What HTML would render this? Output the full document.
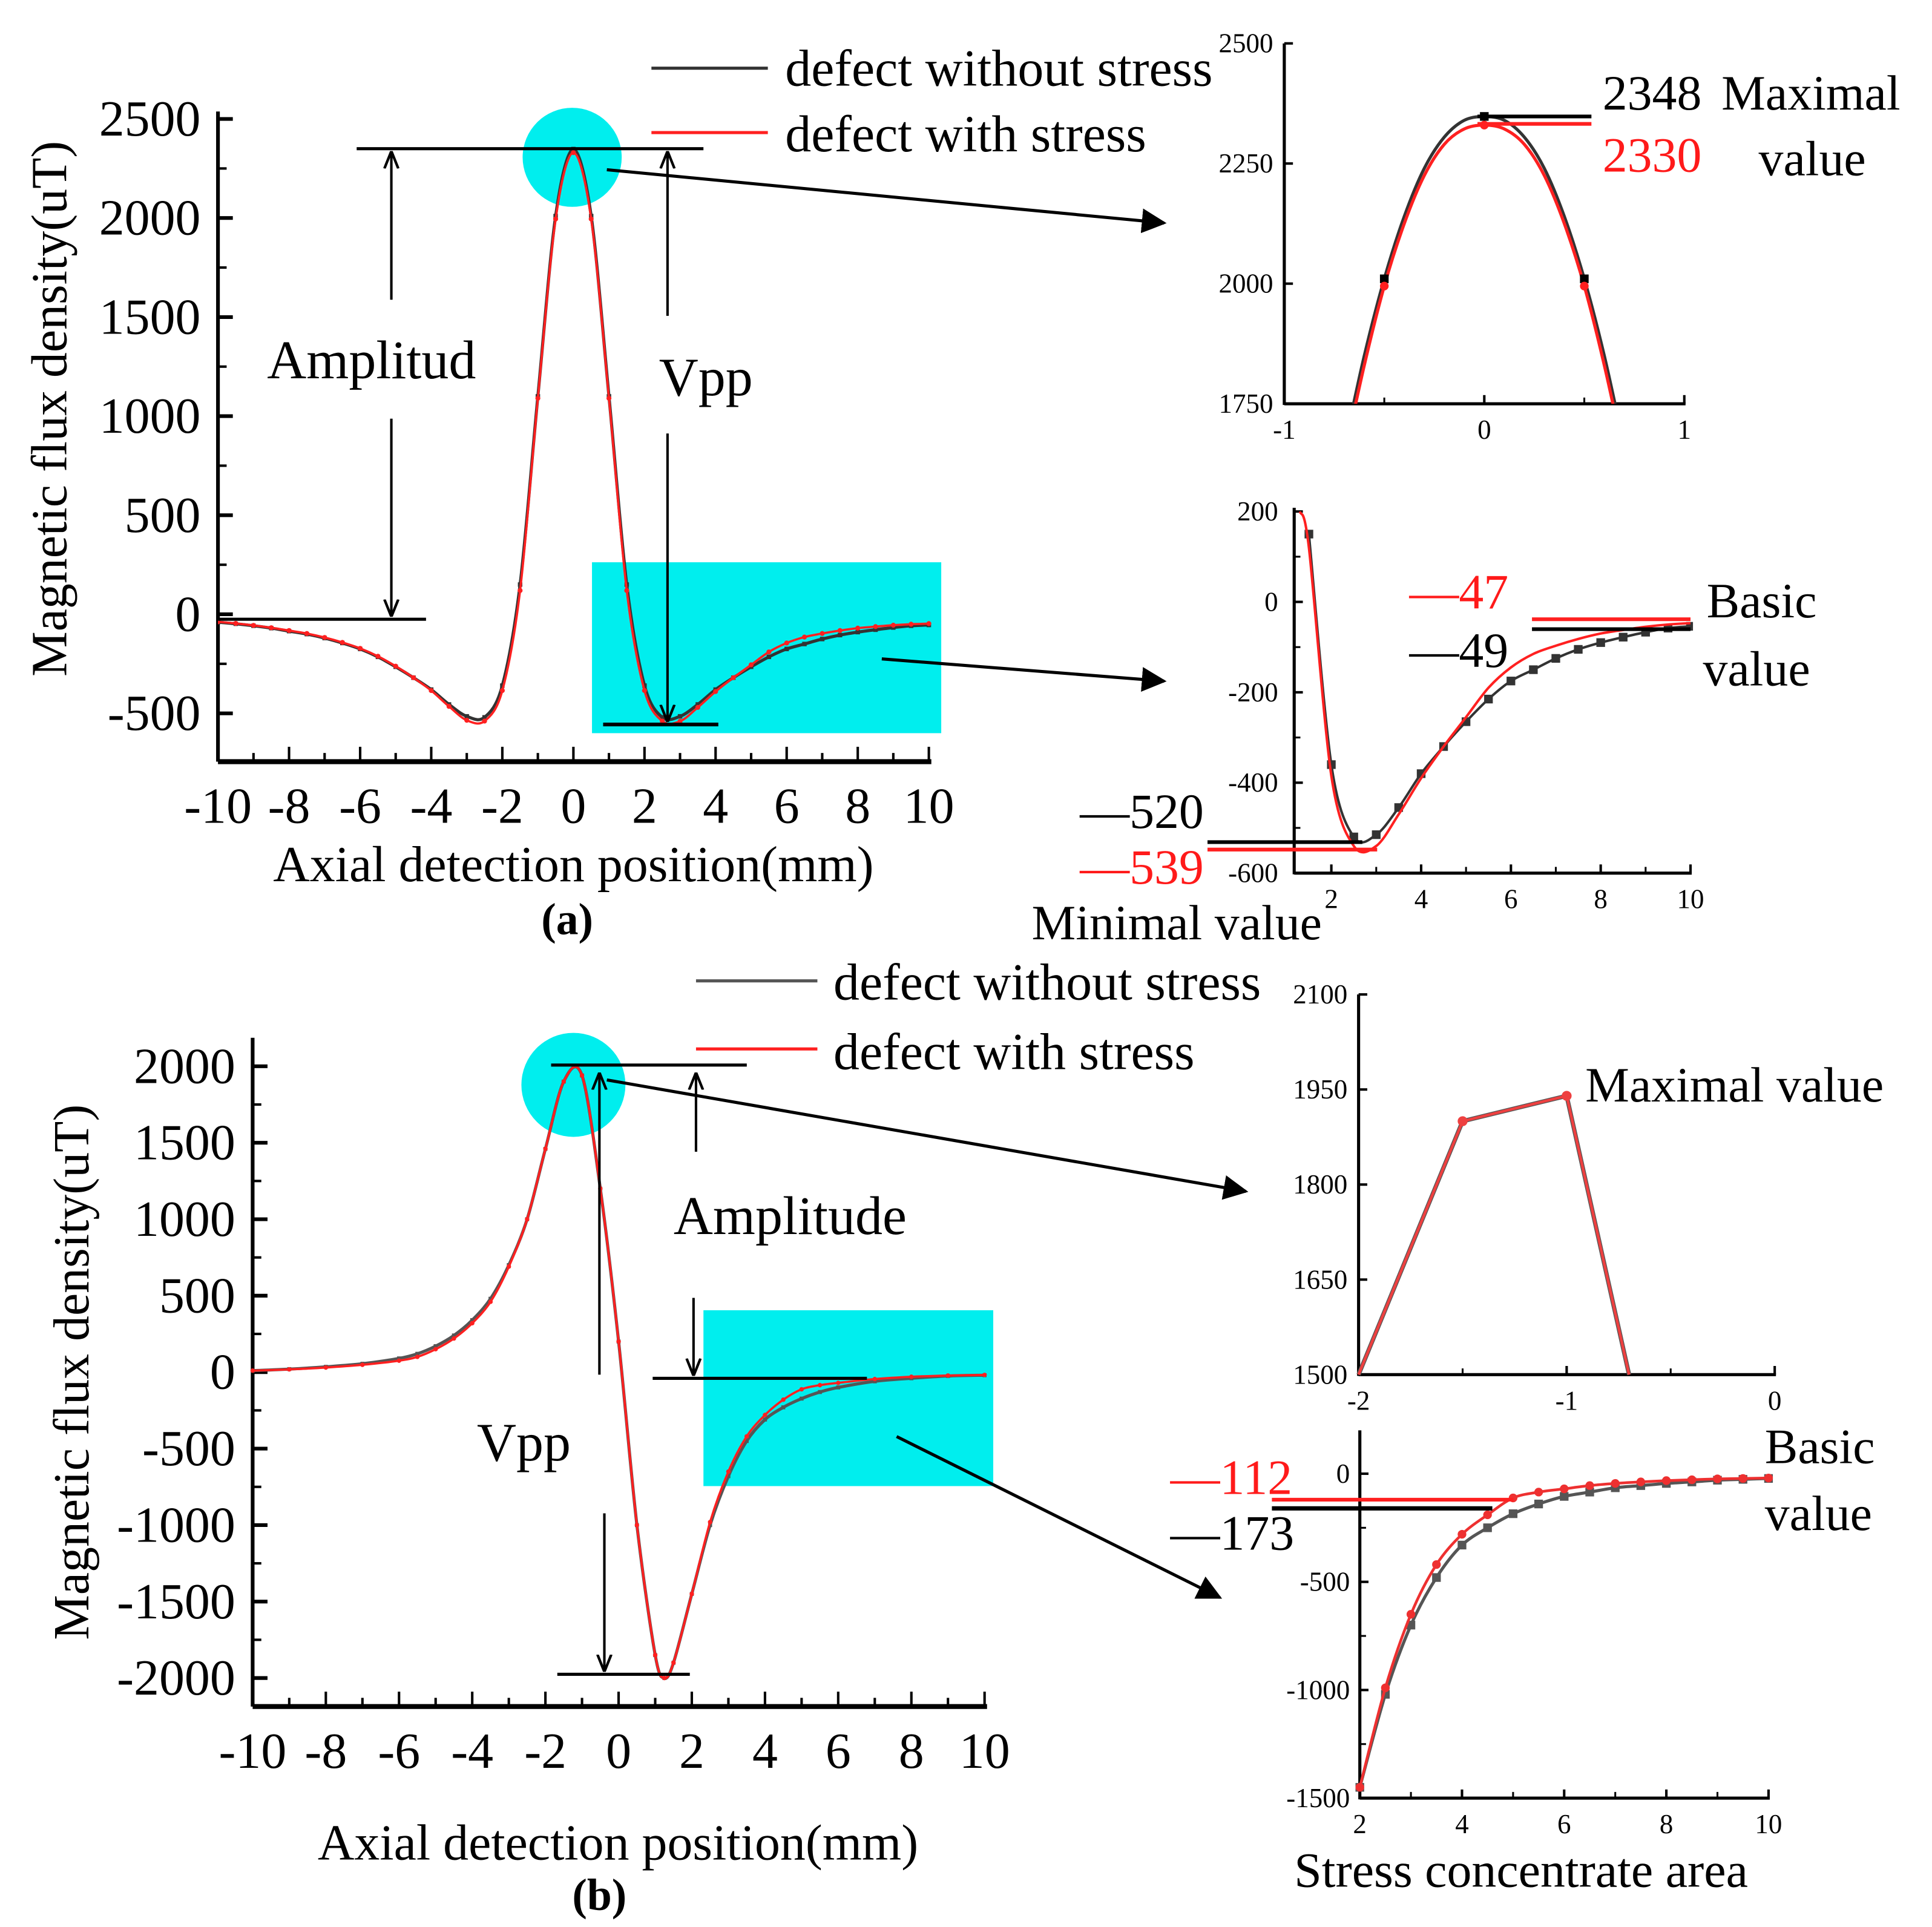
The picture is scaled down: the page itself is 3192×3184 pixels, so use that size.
<!DOCTYPE html>
<html><head><meta charset="utf-8"><style>
html,body{margin:0;padding:0;background:#fff}
svg{display:block}
text{font-family:"Liberation Serif",serif}
</style></head><body>
<svg id="root" width="3192" height="3184" viewBox="0 0 1560 1556" xmlns="http://www.w3.org/2000/svg">
<defs>
<marker id="ah" viewBox="0 0 10 10" refX="9" refY="5" markerWidth="8" markerHeight="8" orient="auto"><path d="M0,0 L10,5 L0,10 z" fill="#000"/></marker>
<marker id="oa" viewBox="0 0 10 10" refX="10" refY="5" markerWidth="7" markerHeight="7" orient="auto"><path d="M0,1 L10,5 L0,9" fill="none" stroke="#000" stroke-width="1.5"/></marker>
</defs>
<g id="layer"></g>
</svg>
<script>
// ---------- Data ----------
const aX = [-10,-9.5,-9,-8.5,-8,-7.5,-7,-6.5,-6,-5.5,-5,-4.5,-4,-3.5,-3,-2.5,-2,-1.5,-1,-0.5,0,0.5,1,1.5,2,2.5,3,3.5,4,4.5,5,5.5,6,6.5,7,7.5,8,8.5,9,9.5,10];
const aNoStress = [-40,-48,-58,-70,-85,-100,-120,-145,-175,-215,-265,-320,-380,-455,-515,-520,-360,150,1100,2010,2348,2010,1100,150,-360,-520,-515,-455,-380,-320,-265,-215,-175,-150,-125,-105,-90,-78,-67,-58,-54];
const aStress = [-38,-46,-56,-68,-82,-97,-117,-142,-172,-212,-262,-320,-385,-465,-535,-539,-385,120,1090,1995,2330,1995,1090,120,-385,-539,-540,-470,-390,-320,-255,-190,-145,-115,-97,-82,-70,-62,-55,-50,-47];
const a1X = [-0.7,-0.6,-0.5,-0.4,-0.3,-0.2,-0.1,0,0.1,0.2,0.3,0.4,0.5,0.6,0.7];
const a1NoStress = [1660,1850,2010,2140,2240,2305,2340,2348,2340,2305,2240,2140,2010,1850,1660];
const a1Stress = [1640,1830,1995,2125,2225,2290,2322,2330,2322,2290,2225,2125,1995,1830,1640];
const a2X = [1.3,1.5,2,2.5,3,3.5,4,4.5,5,5.5,6,6.5,7,7.5,8,8.5,9,9.5,10];
const a2NoStress = [210,150,-360,-520,-515,-455,-380,-320,-265,-215,-175,-150,-125,-105,-90,-78,-67,-58,-54];
const a2Stress = [200,120,-385,-540,-540,-470,-390,-320,-255,-190,-145,-115,-97,-82,-70,-62,-55,-50,-47];
const bX = [-10,-9,-8,-7,-6,-5.5,-5,-4.5,-4,-3.5,-3,-2.5,-2,-1.5,-1,-0.5,0,0.5,1,1.25,1.5,2,2.5,3,3.5,4,4.5,5,5.5,6,7,8,9,10];
const bNoStress = [10,20,35,55,90,120,170,240,340,480,700,1000,1460,1900,1940,1200,200,-1000,-1850,-2000,-1900,-1450,-1000,-680,-450,-310,-230,-173,-130,-100,-60,-40,-25,-20];
const bStress = [10,18,30,48,75,100,150,220,320,460,690,1000,1460,1900,1940,1200,200,-1000,-1850,-2000,-1900,-1450,-980,-650,-420,-280,-180,-112,-85,-70,-45,-30,-22,-18];
const b1X = [-2,-1.5,-1,-0.7];
const b1Vals = [1500,1900,1940,1500];
const b2X = [2,2.5,3,3.5,4,4.5,5,5.5,6,6.5,7,7.5,8,8.5,9,9.5,10];
const b2NoStress = [-1450,-1020,-700,-480,-330,-250,-185,-140,-105,-85,-65,-55,-45,-38,-30,-26,-22];
const b2Stress = [-1450,-990,-650,-420,-280,-190,-112,-85,-70,-55,-45,-38,-32,-28,-24,-22,-20];
const aXTicks = ['-10','-8','-6','-4','-2','0','2','4','6','8','10'];
const aYTicks = ['2500','2000','1500','1000','500','0','-500'];
const bYTicks = ['2000','1500','1000','500','0','-500','-1000','-1500','-2000'];

const NS='http://www.w3.org/2000/svg';
const L=document.getElementById('layer');
function el(tag,attrs,parent){const e=document.createElementNS(NS,tag);for(const k in attrs)e.setAttribute(k,attrs[k]);(parent||L).appendChild(e);return e;}
function txt(s,x,y,size,opts,parent){opts=opts||{};const t=el('text',{x:x,y:y,'font-size':size,fill:opts.fill||'#000','text-anchor':opts.anchor||'start','dominant-baseline':'central'},parent);if(opts.transform)t.setAttribute('transform',opts.transform);t.textContent=s;return t;}
function lin(d0,d1,r0,r1){return v=>r0+(v-d0)*(r1-r0)/(d1-d0);}
function smooth(pts){let d='M'+pts[0][0]+','+pts[0][1];for(let i=0;i<pts.length-1;i++){const p0=pts[Math.max(0,i-1)],p1=pts[i],p2=pts[i+1],p3=pts[Math.min(pts.length-1,i+2)];const t=0.16;d+=' C'+(p1[0]+(p2[0]-p0[0])*t)+','+(p1[1]+(p2[1]-p0[1])*t)+' '+(p2[0]-(p3[0]-p1[0])*t)+','+(p2[1]-(p3[1]-p1[1])*t)+' '+p2[0]+','+p2[1];}return d;}
function series(xs,ys,sx,sy,color,w,marker,ms,name,clip,straight){
  const g=el('g',{});
  
  
  if(clip)g.setAttribute('clip-path','url(#'+clip+')');
  const pts=xs.map((x,i)=>[sx(x),sy(ys[i])]);
  const d=straight?('M'+pts.map(p=>p.join(',')).join(' L')):smooth(pts);
  el('path',{d:d,fill:'none',stroke:color,'stroke-width':w},g);
  pts.forEach(p=>{
    if(marker==='sq'){const m=el('rect',{x:p[0]-ms,y:p[1]-ms,width:2*ms,height:2*ms,fill:color},g);}
    else if(marker==='ci'){const m=el('circle',{cx:p[0],cy:p[1],r:ms,fill:color},g);}
  });
}
function clipRect(id,x,y,w,h){const c=el('clipPath',{id:id});el('rect',{x:x,y:y,width:w,height:h},c);}
function line(x1,y1,x2,y2,w,color,marker,name){const l=el('line',{x1:x1,y1:y1,x2:x2,y2:y2,stroke:color||'#000','stroke-width':w||2});if(marker)l.setAttribute('marker-end','url(#'+marker+')');return l;}
function lab(s,x,y,size,name,opts){const t=txt(s,x,y,size,opts);return t;}

// ============ Panel (a) main ============
(function(){
  const sx=lin(-10,10,176,750), sy=lin(0,2500,496,96);
  let c=el('circle',{cx:462,cy:127,r:40,fill:'#00eeee'});
  
  let r=el('rect',{x:478,y:454,width:282,height:138,fill:'#00eeee'});
  
  clipRect('ca',176,60,600,560);
  line(176,90,176,615,3,'#000',null,'y-axis');
  line(176,615,752,615,4,'#000',null,'x-axis');
  aXTicks.forEach((t,i)=>{const v=+t;const x=sx(v);line(x,615,x,603,2,'#000',null,'x-tick');if(i<aXTicks.length-1)line(sx(v+1),615,sx(v+1),608,2,'#000',null,'x-minor-tick');lab(t,x,651,41,'x-tick-label',{anchor:'middle'});});
  aYTicks.forEach((t,i)=>{const v=+t;const y=sy(v);line(176,y,188,y,3,'#000',null,'y-tick');if(i<aYTicks.length-1)line(176,sy(v-250),183,sy(v-250),2,'#000',null,'y-minor-tick');lab(t,162,y,41,'y-tick-label',{anchor:'end'});});
  series(aX,aNoStress,sx,sy,'#333',2.5,'sq',1.8,'series-a-without-stress','ca');
  series(aX,aStress,sx,sy,'#ff2020',1.8,'ci',2,'series-a-with-stress','ca');
  lab('Axial detection position(mm)',463,698,41,'x-axis-title',{anchor:'middle'});
  lab('(a)',458,742,36,'panel-label-a',{anchor:'middle'}).setAttribute('font-weight','bold');
  lab('Magnetic flux density(uT)',40,330,41,'y-axis-title',{anchor:'middle',transform:'rotate(-90 40 330)'});
  line(288,120,568,120,2.5);line(176,500,344,500,2.5);
  line(316,242,316,122,2,'#000','oa','amplitude-arrow-up');line(316,338,316,498,2,'#000','oa','amplitude-arrow-down');
  lab('Amplitud',300,291,44,'amplitude-label',{anchor:'middle'});
  line(539,255,539,122,2,'#000','oa','vpp-arrow-up');line(539,350,539,583,2,'#000','oa','vpp-arrow-down');
  line(487,585,580,585,3);
  lab('Vpp',570,305,44,'vpp-label',{anchor:'middle'});
  line(490,137,940,180,2.5,'#000','ah','zoom-arrow-peak');
  line(712,532,940,550,2.5,'#000','ah','zoom-arrow-tail');
  line(526,55,620,55,2.5,'#333',null,'legend-line-without-stress');
  lab('defect without stress',634,55,42,'legend-without-stress');
  line(526,107,620,107,2.5,'#ff2020',null,'legend-line-with-stress');
  lab('defect with stress',634,108,42,'legend-with-stress');
})();

// ============ Inset a1 ============
(function(){
  const sx=lin(-1,1,1037,1360), sy=lin(1750,2500,326,35);
  clipRect('ca1',1037,30,323,296);
  line(1037,35,1037,327,2.5,'#000',null,'inset-a1-y-axis');line(1037,326,1361,326,2.5,'#000',null,'inset-a1-x-axis');
  ['-1','0','1'].forEach(s=>{const x=sx(+s);line(x,326,x,319,2);lab(s,x,347,22,'inset-a1-x-tick-label',{anchor:'middle'});});
  line(sx(-0.5),326,sx(-0.5),321,1.5);line(sx(0.5),326,sx(0.5),321,1.5);
  ['2500','2250','2000','1750'].forEach(s=>{const y=sy(+s);line(1037,y,1044,y,2);lab(s,1028,y,22,'inset-a1-y-tick-label',{anchor:'end'});});
  series(a1X,a1NoStress,sx,sy,'#333',2.5,null,0,'inset-a1-without-stress','ca1');
  series(a1X,a1Stress,sx,sy,'#ff2020',2.5,null,0,'inset-a1-with-stress','ca1');
  [-0.5,0,0.5].forEach(x=>{const i=a1X.indexOf(x);el('rect',{x:sx(x)-3.5,y:sy(a1NoStress[i])-3.5,width:7,height:7,fill:'#000'});el('circle',{cx:sx(x),cy:sy(a1Stress[i]),r:3.5,fill:'#ff2020'});});
  line(1193,94,1285,94,3);line(1193,100,1285,100,3,'#ff2020');
  lab('2348',1294,75,40,'max-value-no-stress');
  lab('2330',1294,125,40,'max-value-stress',{fill:'#ff1a1a'});
  lab('Maximal',1390,75,40,'maximal-label');
  lab('value',1420,128,40,'maximal-value-label');
})();

// ============ Inset a2 ============
(function(){
  const sx=lin(2,10,1075,1365), sy=lin(0,-600,486,705);
  clipRect('ca2',1045,410,322,296);
  line(1045,410,1045,706,2.5,'#000',null,'inset-a2-y-axis');line(1045,705,1366,705,2.5,'#000',null,'inset-a2-x-axis');
  ['2','4','6','8','10'].forEach(s=>{const x=sx(+s);line(x,705,x,698,2);if(+s<10)line(sx(+s+1),705,sx(+s+1),700,1.5);lab(s,x,726,22,'inset-a2-x-tick-label',{anchor:'middle'});});
  ['200','0','-200','-400','-600'].forEach(s=>{const y=sy(+s);line(1045,y,1052,y,2);if(+s>-600)line(1045,sy(+s-100),1050,sy(+s-100),1.5);lab(s,1032,y,22,'inset-a2-y-tick-label',{anchor:'end'});});
  series(a2X.slice(1),a2NoStress.slice(1),sx,sy,'#333',2,'sq',3.5,'inset-a2-without-stress','ca2');
  series(a2X,a2Stress,sx,sy,'#ff2020',2,null,0,'inset-a2-with-stress-line','ca2');
  series(a2X.slice(1),a2Stress.slice(1),sx,sy,'none',0,'ci',3.5,'inset-a2-with-stress','ca2');
  line(975,680,1100,680,3);line(975,686,1112,686,3,'#ff2020');
  line(1237,500,1365,500,3,'#ff2020');line(1237,508,1365,508,3);
  lab('—520',872,655,40,'min-value-no-stress');
  lab('—539',872,700,40,'min-value-stress',{fill:'#ff1a1a'});
  lab('—47',1138,478,40,'basic-value-stress',{fill:'#ff1a1a'});
  lab('—49',1138,525,40,'basic-value-no-stress');
  lab('Basic',1378,485,40,'basic-label');
  lab('value',1375,540,40,'basic-value-label');
  lab('Minimal value',833,745,40,'minimal-value-label');
})();

// ============ Panel (b) main ============
(function(){
  const sx=lin(-10,10,204,795), sy=lin(0,2000,1108,861);
  let c=el('circle',{cx:463,cy:876,r:42,fill:'#00eeee'});
  
  let r=el('rect',{x:568,y:1058,width:234,height:142,fill:'#00eeee'});
  
  line(204,838,204,1378,3,'#000',null,'y-axis-b');
  line(204,1378,797,1378,4,'#000',null,'x-axis-b');
  aXTicks.forEach((s,i)=>{const v=+s;const x=sx(v);line(x,1378,x,1366,2);if(i<aXTicks.length-1)line(sx(v+1),1378,sx(v+1),1371,2);lab(s,x,1414,41,'x-tick-label-b',{anchor:'middle'});});
  bYTicks.forEach((s,i)=>{const v=+s;const y=sy(v);line(204,y,216,y,3);if(i<bYTicks.length-1)line(204,sy(v-250),211,sy(v-250),2);lab(s,190,y,41,'y-tick-label-b',{anchor:'end'});});
  series(bX,bNoStress,sx,sy,'#555',2.5,'sq',1.6,'series-b-without-stress');
  series(bX,bStress,sx,sy,'#ff2020',1.8,'ci',1.8,'series-b-with-stress');
  lab('Axial detection position(mm)',499,1488,41,'x-axis-title-b',{anchor:'middle'});
  lab('(b)',484,1530,36,'panel-label-b',{anchor:'middle'}).setAttribute('font-weight','bold');
  lab('Magnetic flux density(uT)',58,1108,41,'y-axis-title-b',{anchor:'middle',transform:'rotate(-90 58 1108)'});
  line(445,860,603,860,2.5);
  line(562,930,562,866,2,'#000','oa','amplitude-arrow-up-b');line(560,1048,560,1111,2,'#000','oa','amplitude-arrow-down-b');
  line(527,1113,700,1113,2.5);
  lab('Amplitude',638,982,44,'amplitude-label-b',{anchor:'middle'});
  line(484,1110,484,866,2,'#000','oa','vpp-arrow-up-b');line(488,1222,488,1350,2,'#000','oa','vpp-arrow-down-b');
  line(450,1352,557,1352,2.5);
  lab('Vpp',423,1165,44,'vpp-label-b',{anchor:'middle'});
  line(490,872,1006,962,2.5,'#000','ah','zoom-arrow-peak-b');
  line(724,1160,985,1290,2.5,'#000','ah','zoom-arrow-tail-b');
  line(562,792,660,792,2.5,'#555',null,'legend-line-without-stress-b');
  lab('defect without stress',673,793,42,'legend-without-stress-b');
  line(562,847,660,847,2.5,'#ff2020',null,'legend-line-with-stress-b');
  lab('defect with stress',673,849,42,'legend-with-stress-b');
})();

// ============ Inset b1 ============
(function(){
  const sx=lin(-2,0,1097,1433), sy=lin(1500,2100,1110,803);
  line(1097,803,1097,1111,2.5);line(1097,1110,1434,1110,2.5);
  ['-2','-1','0'].forEach(s=>{const x=sx(+s);line(x,1110,x,1103,2);lab(s,x,1131,22,'inset-b1-x-tick-label',{anchor:'middle'});});
  line(sx(-1.5),1110,sx(-1.5),1105,1.5);line(sx(-0.5),1110,sx(-0.5),1105,1.5);
  ['2100','1950','1800','1650','1500'].forEach(s=>{const y=sy(+s);line(1097,y,1104,y,2);lab(s,1088,y,22,'inset-b1-y-tick-label',{anchor:'end'});});
  series(b1X,b1Vals,sx,sy,'#555',3.5,null,0,'inset-b1-without-stress',null,true);
  series(b1X,b1Vals,sx,sy,'#ee4040',2.2,null,0,'inset-b1-with-stress',null,true);
  [1,2].forEach(i=>{el('circle',{cx:sx(b1X[i]),cy:sy(b1Vals[i]),r:4,fill:'#ee4040'});});
  lab('Maximal value',1280,876,40,'maximal-value-label-b');
})();

// ============ Inset b2 ============
(function(){
  const sx=lin(2,10,1098,1428), sy=lin(0,-1500,1190,1452);
  line(1098,1155,1098,1453,2.5);line(1098,1452,1429,1452,2.5);
  ['2','4','6','8','10'].forEach(s=>{const x=sx(+s);line(x,1452,x,1445,2);if(+s<10)line(sx(+s+1),1452,sx(+s+1),1447,1.5);lab(s,x,1473,22,'inset-b2-x-tick-label',{anchor:'middle'});});
  ['0','-500','-1000','-1500'].forEach(s=>{const y=sy(+s);line(1098,y,1105,y,2);if(+s>-1500)line(1098,sy(+s-250),1103,sy(+s-250),1.5);lab(s,1090,y,22,'inset-b2-y-tick-label',{anchor:'end'});});
  series(b2X,b2NoStress,sx,sy,'#555',2.5,'sq',3.5,'inset-b2-without-stress');
  series(b2X,b2Stress,sx,sy,'#ee3030',2.2,'ci',3.5,'inset-b2-with-stress');
  line(1027,1211,1222,1211,3,'#ff2020');line(1027,1218,1205,1218,3.5);
  lab('—112',945,1193,40,'basic-value-stress-b',{fill:'#ff1a1a'});
  lab('—173',945,1238,40,'basic-value-no-stress-b');
  lab('Basic',1425,1168,40,'basic-label-b');
  lab('value',1425,1222,40,'basic-value-label-b');
  lab('Stress concentrate area',1045,1510,40,'stress-area-label');
})();
</script>
</body></html>
